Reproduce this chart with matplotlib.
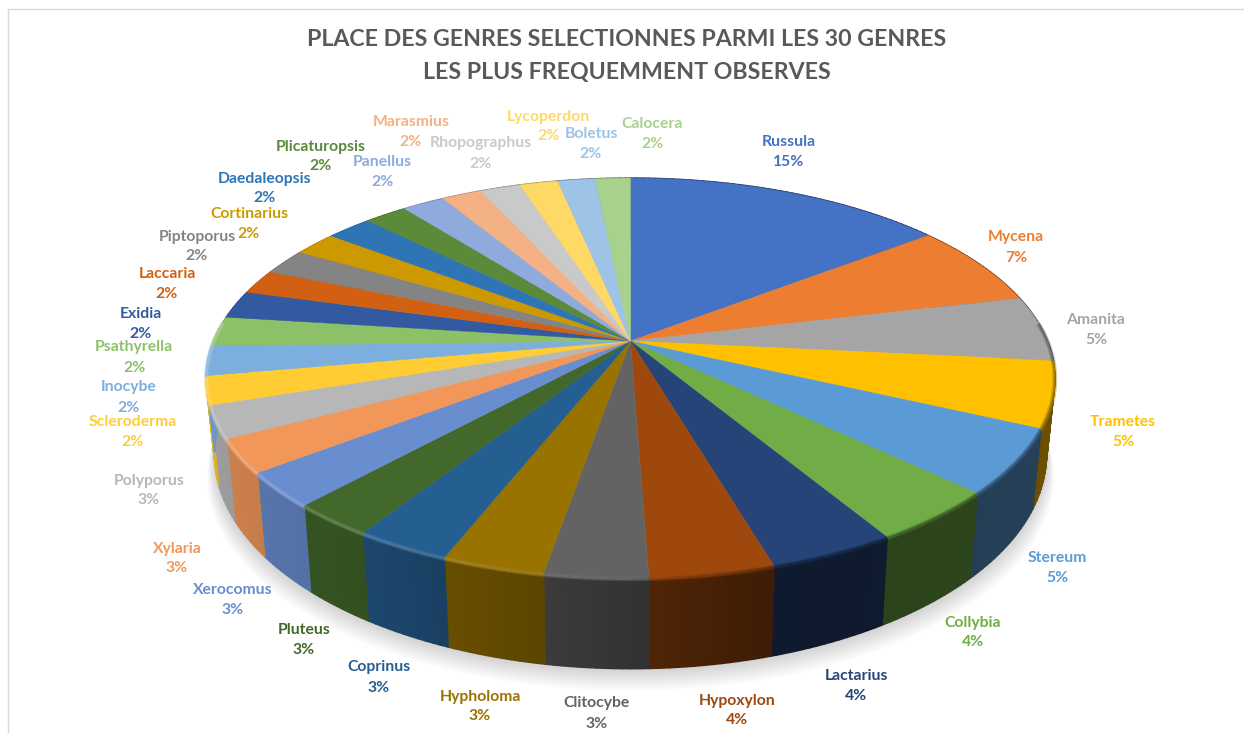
import numpy as np
import matplotlib
matplotlib.use("Agg")
import matplotlib.pyplot as plt
from matplotlib.colors import to_rgb
from matplotlib.collections import LineCollection, PolyCollection

plt.rcParams["font.family"] = ["Lato", "DejaVu Sans"]

genres = ["Russula", "Mycena", "Amanita", "Trametes", "Stereum", "Collybia",
          "Lactarius", "Hypoxylon", "Clitocybe", "Hypholoma", "Coprinus", "Pluteus",
          "Xerocomus", "Xylaria", "Polyporus", "Scleroderma", "Inocybe", "Psathyrella",
          "Exidia", "Laccaria", "Piptoporus", "Cortinarius", "Daedaleopsis", "Plicaturopsis",
          "Panellus", "Marasmius", "Rhopographus", "Lycoperdon", "Boletus", "Calocera"]
shares = [14.6, 6.7, 5.3, 5.3, 5.2, 4.25, 4.1, 4.0, 3.3, 3.3, 3.1, 2.7, 2.8, 2.7, 2.6,
          2.3, 2.4, 2.4, 2.25, 2.0, 2.1, 1.97, 2.08, 1.94, 1.94, 1.8, 1.86, 1.75, 1.7, 1.6]

colors = ["#4472C4", "#ED7D31", "#A5A5A5", "#FFC000", "#5B9BD5", "#70AD47",
          "#264478", "#9E480E", "#636363", "#997300", "#255E91", "#43682B",
          "#698ED0", "#F1975A", "#B7B7B7", "#FFCD33", "#7CAFDD", "#8CC168",
          "#335AA1", "#D26012", "#848484", "#CC9A00", "#2E75B6", "#5A8A3A",
          "#8FAADC", "#F4B183", "#C9C9C9", "#FFD966", "#9DC3E6", "#A9D18E"]

# centre of the name line of each label, in pixels
label_pos = [(789, 141), (1016, 236), (1096, 318), (1123, 421), (1057, 557), (973, 621),
             (856, 675), (737, 699), (597, 702), (480, 695), (379, 666), (304, 628),
             (233, 589), (177, 547), (149, 479), (133, 421), (129, 386), (134, 346),
             (141, 312), (167, 272), (197, 235), (249, 212), (265, 177), (321, 145),
             (382, 161), (411, 120), (481, 142), (548, 115), (591, 132), (652, 122)]

# perspective of the tilted pie
cx, cy = 630.5, 341
R, A, k = 417, 193, 0.185
H, squeeze = 74, 0.98


def top_xy(theta):
    u, v = np.sin(theta), np.cos(theta)
    s = 1 / (1 + k * v)
    return cx + R * u * s, cy - A * v * s


def bottom_xy(theta):
    x, y = top_xy(theta)
    return cx + (x - cx) * squeeze, y + H / (1 + k * np.cos(theta))


def mix(col, other, t):
    c = np.array(to_rgb(col))
    return tuple(c + (np.array(other) - c) * t)


fig = plt.figure(figsize=(12.44, 7.33), dpi=100)
ax = fig.add_axes([0, 0, 1, 1])
ax.set_xlim(0, 1244)
ax.set_ylim(733, 0)
ax.axis("off")

# chart frame
ax.plot([8, 8, 1244], [733, 9, 9], color="#D9D9D9", lw=1)

# soft shadow under the pie
ring = np.linspace(0, 2 * np.pi, 361)
bx, by = bottom_xy(ring)
for i in range(16):
    grow = 1 + i * 0.0012
    ax.fill(cx + (bx - cx) * grow, by + i * 1.5, color="black", alpha=0.012, lw=0)

edges = np.cumsum([0] + shares) / sum(shares) * 2 * np.pi

# outer wall, darker towards the right
for i in range(len(shares)):
    steps = np.arange(edges[i], edges[i + 1], np.radians(1.0))
    steps = np.append(steps, edges[i + 1])
    polys, cols = [], []
    for a, b in zip(steps[:-1], steps[1:]):
        xa, ya = top_xy(np.array([a, b]))
        xb, yb = bottom_xy(np.array([a, b]))
        polys.append([(xa[0], ya[0]), (xa[1], ya[1]), (xb[1], yb[1]), (xb[0], yb[0])])
        f = np.interp(np.sin((a + b) / 2), [-1, -0.6, -0.25, 0.05, 0.3, 0.7, 1],
                      [0.87, 0.78, 0.63, 0.5, 0.38, 0.4, 0.42])
        cols.append(mix(colors[i], (0, 0, 0), 1 - f))
    ax.add_collection(PolyCollection(polys, facecolors=cols, edgecolors=cols, linewidths=1.2))

# top face
for i in range(len(shares)):
    t = np.linspace(edges[i], edges[i + 1], 40)
    x, y = top_xy(t)
    ax.fill(np.r_[cx, x], np.r_[cy, y], color=colors[i], lw=0.3)

# bevel along the front rim
for i in range(len(shares)):
    t = np.linspace(edges[i], edges[i + 1], 30)
    x, y = top_xy(t)
    segs, cols = [], []
    for j in range(len(t) - 1):
        mid = (t[j] + t[j + 1]) / 2
        if np.cos(mid) > 0.1:
            continue
        m = np.interp(np.sin(mid), [-1, -0.5, 0, 0.3, 1], [0.3, 0.22, 0.08, -0.35, -0.4])
        other = (1, 1, 1) if m > 0 else (0, 0, 0)
        segs.append([(x[j], y[j] + 1), (x[j + 1], y[j + 1] + 1)])
        cols.append(mix(colors[i], other, abs(m)))
    if segs:
        ax.add_collection(LineCollection(segs, colors=cols, linewidths=3.5, alpha=0.35))
        ax.add_collection(LineCollection(segs, colors=cols, linewidths=1.8, alpha=0.7))

# labels
for name, share, col, (lx, ly) in zip(genres, shares, colors, label_pos):
    ax.text(lx, ly + 1.5, name, color=col, ha="center", va="center", fontsize=11.3, fontweight="bold")
    ax.text(lx, ly + 21.5, f"{share:.0f}%", color=col, ha="center", va="center",
            fontsize=11.3, fontweight="bold")

ax.text(627, 39, "PLACE DES GENRES SELECTIONNES PARMI LES 30 GENRES", color="#595959",
        ha="center", va="center", fontsize=16.65, fontweight="bold")
ax.text(627, 73, "LES PLUS FREQUEMMENT OBSERVES", color="#595959",
        ha="center", va="center", fontsize=16.65, fontweight="bold")

fig.savefig("out.png", dpi=100)
